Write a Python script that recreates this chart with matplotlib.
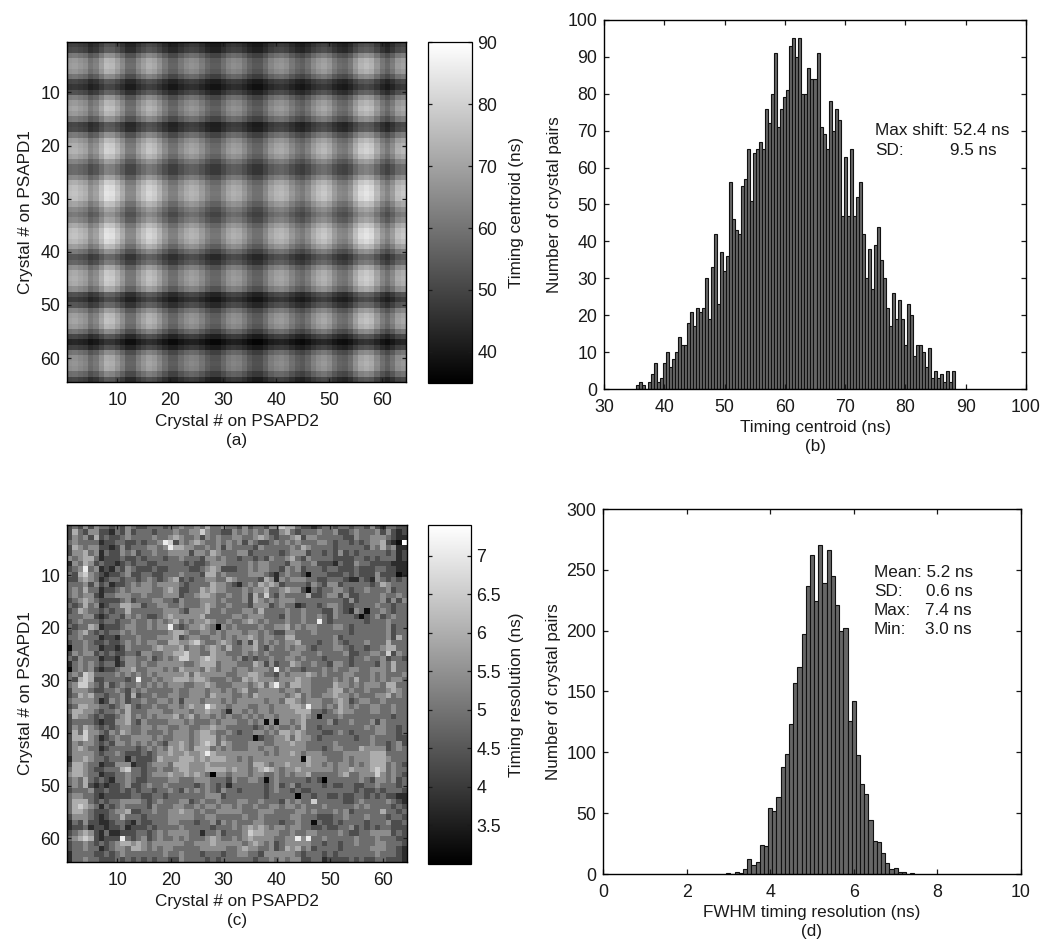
import numpy as np
import matplotlib
matplotlib.use("Agg")
import matplotlib.pyplot as plt

plt.rcParams['font.family'] = ['Liberation Sans', 'DejaVu Sans']
plt.rcParams['font.size'] = 12.3
plt.rcParams['xtick.labelsize'] = 12.8
plt.rcParams['ytick.labelsize'] = 12.8
plt.rcParams['axes.linewidth'] = 1.0
plt.rcParams['text.color'] = '#1a1a1a'
plt.rcParams['axes.labelcolor'] = '#1a1a1a'
plt.rcParams['xtick.color'] = '#1a1a1a'
plt.rcParams['ytick.color'] = '#1a1a1a'

W, H = 1050, 947

# panel (a): offsets read along the rows and columns, added to the centre level
centroid_level = 58
row_offset = [-12, -10, -1, 5, 6, 4, -2, -11, -14, -9, 0, 5, 7, 5, -1, -11,
              -10, -1, 6, 9, 10, 7, 1, -4, -4, 2, 9, 12, 13, 12, 7, 2,
              -1, 2, 8, 12, 13, 11, 6, -1, -8, -5, 3, 8, 9, 8, 3, -9,
              -13, -8, 1, 6, 7, 5, -2, -11, -17, -12, -2, 3, 4, 3, -3, -11]
col_offset = [5, 6, 4, 2, -4, -1, 6, 13, 12, 7, 1, -6, -6, 1, 6, 10,
              8, 3, -3, -8, -8, -3, 1, 3, 2, -2, -7, -10, -10, -5, 0, 2,
              1, -3, -8, -11, -11, -6, 0, 3, 4, 2, -3, -7, -9, -5, 1, 5,
              7, 4, -2, -6, -7, -3, 5, 11, 13, 11, 4, -3, -7, -2, 5, 7]

# panel (b): histogram counts, 0.5 ns bins starting at 35.5 ns
b_start = 35.5
b_width = 0.5
b_counts = [1, 2, 1, 0, 2, 4, 7, 2, 3, 7, 10, 6, 8, 10, 14, 12, 12, 18, 21, 17,
            22, 21, 22, 30, 19, 33, 42, 23, 37, 32, 36, 56, 46, 43, 42, 55, 57, 65, 51, 64,
            65, 67, 65, 76, 72, 80, 91, 71, 76, 79, 81, 93, 95, 90, 95, 80, 80, 87, 84, 84,
            91, 71, 69, 65, 78, 70, 76, 73, 47, 63, 47, 65, 47, 52, 56, 42, 30, 38, 27, 39,
            44, 35, 30, 22, 17, 26, 19, 24, 19, 12, 23, 20, 9, 12, 12, 10, 6, 11, 3, 5,
            3, 4, 2, 5, 2, 5]

# panel (c): grey level per cell, 4.4 is about the 5.1 ns mean
res_min, res_max = 3.0, 7.4
res_rows = [
    "34353544 34354334 44344544 54644544 35344355 76643323 44344344 35324433",
    "36435533 24353444 34445445 57544335 45454533 56434445 44533454 44535323",
    "35453634 33454444 54456544 53545445 54456543 44563554 44443354 45554322",
    "45444423 34433434 45873545 65445454 53543345 45454445 54344343 45563219",
    "36545533 23534445 54586655 44545354 44435444 44546544 44344444 35464522",
    "35564524 33545344 54455553 55465444 55344444 34555344 34353434 44443423",
    "54566423 33433434 44344544 43554544 34434354 45643544 44333344 34344423",
    "25465343 32343443 34444434 33455544 44545544 43554453 33243354 43333222",
    "34584523 24354333 43344443 34565333 44545544 35453444 34433343 33443322",
    "43675432 33453344 33444544 43664544 44555432 45443144 43334343 33533312",
    "33565423 44344345 43456343 44554465 44443652 54555443 34443224 32543434",
    "44453534 23345455 45555434 44465543 24546565 34444354 35534444 43465444",
    "45464423 34545555 44565334 46565544 45455644 56553143 44554344 54445344",
    "45455324 45554454 44555344 56654454 45364743 54444633 45535334 44454454",
    "34565433 33453444 55443544 45554544 45365454 55544444 44443534 44453535",
    "43464523 44665534 45544544 45654454 44355534 54423443 45543344 44544344",
    "34654434 34464444 44555435 55644544 45546444 45445444 33543254 14454344",
    "44455323 44354543 34565555 56444445 54555444 35445445 43544431 34534544",
    "34544434 43445445 45456454 55654454 45654544 45445448 43444444 34445444",
    "43446523 33455445 45584345 56540545 44445445 56454554 44554344 44445344",
    "34564343 44545444 44456654 45545455 54554543 35544454 44444344 44445344",
    "44544423 32444544 45556345 54455454 55654554 46644444 44534444 44445364",
    "34454334 33454545 54466556 75445654 35364545 45564443 44543444 54446444",
    "14454423 32354444 56555645 54565464 45564354 45455434 44554344 34456644",
    "35455343 43344355 44556675 54465544 45454544 44554445 44445334 45547354",
    "43544423 32455445 34545775 56765554 53434454 45545444 34444344 54453443",
    "24545434 42355454 45555544 56664555 44465353 44654454 43554344 44354644",
    "14545323 34556445 55454655 54654554 55455548 45443444 54544554 45554644",
    "45476444 45454545 45555564 65555544 55665443 54555654 54445544 45454445",
    "43676334 44434844 54556665 66544454 46565554 55565544 44545464 45454554",
    "45775435 34544545 45455544 55654445 55456468 54665544 44655454 55546644",
    "35554334 45435454 44445445 55455454 56445555 45545544 45664544 54445654",
    "34656443 44536344 54455445 55465554 45465555 54564544 55655454 44556454",
    "45555423 54534454 45545355 54555454 55555455 46654555 44565345 54454444",
    "34665544 34564344 54455456 55865545 55445545 55665855 45465454 45544544",
    "46655434 45464445 55445554 55655425 54545545 55566644 34565544 45544544",
    "36554343 34564545 45556456 45545454 45454554 55556541 44454444 44444344",
    "34444323 35564354 44455545 44454555 44545151 55456444 45344544 45354444",
    "35465434 34554455 45544554 45565544 44434545 44546443 44444444 54554434",
    "36475543 54654454 44545554 56654454 34455454 66565444 33454344 44554434",
    "36675423 45445555 45445554 56664544 44413445 56465543 44444434 45444433",
    "35455434 35545454 54355654 56764654 44555445 55655444 44544444 45443453",
    "35654423 44444345 45465654 66645454 44554554 55555444 34554446 55553454",
    "35555434 45433343 45565565 56865555 55555454 55654555 44445555 56664444",
    "25565443 44424333 46555666 56566655 45455555 55551655 54445455 56665444",
    "36654423 35552334 55546665 55655555 55466545 56555655 45455454 56664543",
    "46654334 44674434 45445665 55666656 55456765 45565555 55455655 56764544",
    "56654423 34454434 55565565 65405545 55455445 45455644 44456445 55754543",
    "45464343 24454334 44455444 55544435 44554145 44444343 04444445 43554534",
    "45463232 33453345 44544444 34543424 44444345 34534444 34334433 44544434",
    "34445334 33434344 34454354 54543544 34444345 44343344 44444434 33434443",
    "45544323 33334433 44344444 44555344 44444344 44404434 43343344 34343322",
    "46664343 44555543 45444553 45445444 55445444 35454474 44443345 44445432",
    "46765424 34544443 54445544 54554554 54454455 45545444 54444454 54444343",
    "46654333 45563344 54455655 45445555 54445554 44455454 44545344 44464434",
    "35554323 44644434 44455555 44554444 45445444 44554443 33445444 54443443",
    "24353322 34432433 44455444 34453545 44455444 34454414 33434444 34445334",
    "23342332 33423334 34444544 44434445 45656545 54554433 43344534 34344333",
    "34565324 22333443 45455554 42445344 45766555 44544554 44454334 45555343",
    "45676323 33843453 45445454 44565445 45655554 45585844 54444454 44544433",
    "34454343 45665654 55555544 55565555 54565453 45555544 34434454 44554443",
    "34454423 45546654 54554444 45555544 56554453 46564534 44434444 45554432",
    "24444334 34544444 44544544 43444344 55443555 55543444 34344444 44544432",
    "24454433 34343434 34433544 44343444 44434454 54553344 23333434 33443332",
]

# panel (d): histogram counts, 0.1 ns bins starting at 3.0 ns
d_start = 3.0
d_width = 0.1
d_counts = [1, 0, 2, 1, 4, 12, 7, 10, 24, 23, 54, 52, 63, 88, 99, 123, 157, 170, 197, 237,
            262, 224, 270, 239, 266, 245, 221, 200, 202, 126, 142, 98, 74, 66, 44, 27, 26, 17, 9, 4,
            5, 2, 2, 0, 1]


def axes_px(fig, left, top, right, bottom):
    return fig.add_axes([left / W, 1 - bottom / H, (right - left) / W, (bottom - top) / H])


def heatmap(fig, box, cbox, data, vmin, vmax, cticks, ctick_labels, clabel, tag):
    ax = axes_px(fig, *box)
    im = ax.imshow(data, cmap='gray', vmin=vmin, vmax=vmax, aspect='auto',
                   extent=[0.5, 64.5, 64.5, 0.5], interpolation='nearest')
    ax.set_xticks(range(10, 61, 10))
    ax.set_yticks(range(10, 61, 10))
    ax.tick_params(direction='in', top=True, right=True, length=3, width=0.9)
    ax.tick_params(axis='x', pad=7)
    ax.tick_params(axis='y', pad=5)
    ax.set_xlabel('Crystal # on PSAPD2\n' + tag, labelpad=4, linespacing=1.35)
    ax.set_ylabel('Crystal # on PSAPD1', labelpad=5)

    cax = axes_px(fig, *cbox)
    cb = fig.colorbar(im, cax=cax)
    cb.set_ticks(cticks)
    cb.set_ticklabels(ctick_labels)
    cax.tick_params(direction='in', left=True, right=True, length=3, width=0.9, pad=4)
    cb.outline.set_linewidth(0.9)
    cax.text((517 - cbox[0]) / (cbox[2] - cbox[0]), 0.5, clabel, rotation=90,
             ha='center', va='center', transform=cax.transAxes)


def histogram(fig, box, start, width, counts, xlim, ylim, xticks, yticks, xlabel):
    ax = axes_px(fig, *box)
    centers = start + width * np.arange(len(counts))
    ax.bar(centers, counts, width=width, color='#666666', edgecolor='#111111', linewidth=0.8)
    ax.set_xlim(xlim)
    ax.set_ylim(ylim)
    ax.set_xticks(xticks)
    ax.set_yticks(yticks)
    ax.tick_params(direction='in', top=True, right=True, length=3.5, width=0.9)
    ax.tick_params(axis='x', pad=7)
    ax.tick_params(axis='y', pad=5)
    ax.set_xlabel(xlabel, labelpad=3, linespacing=1.35)
    ax.set_ylabel('Number of crystal pairs', labelpad=4)
    return ax


fig = plt.figure(figsize=(W / 100, H / 100), dpi=100)

# (a) column contrast gets stronger on the bright rows
rows = np.array(row_offset)[:, None]
cols = np.array(col_offset)[None, :]
centroid = centroid_level + rows + cols * (0.77 + 0.02 * rows)
heatmap(fig, (67, 42, 406, 382), (428, 42, 472, 383), centroid, 35, 90,
        [40, 50, 60, 70, 80, 90], ['40', '50', '60', '70', '80', '90'],
        'Timing centroid (ns)', '(a)')

# (b)
ax_b = histogram(fig, (604, 20, 1026, 389), b_start, b_width, b_counts, (30, 100), (0, 100),
                 range(30, 101, 10), range(0, 101, 10), 'Timing centroid (ns)\n(b)')
ax_b.text(74.9, 70, 'Max shift: 52.4 ns', va='center')
ax_b.text(74.9, 64.7, 'SD:', va='center')
ax_b.text(87.4, 64.7, '9.5 ns', va='center')

# (c) spread the digits around the mean, the histogram shows about 0.6 ns SD
digits = np.array([[int(c) for c in r.replace(' ', '')] for r in res_rows], dtype=float)
resolution = np.clip(5.1 + (digits - 4.4) * 0.55, res_min, res_max)
heatmap(fig, (67, 525, 407, 862), (428, 525, 471, 864), resolution, res_min, res_max,
        [3.5, 4, 4.5, 5, 5.5, 6, 6.5, 7], ['3.5', '4', '4.5', '5', '5.5', '6', '6.5', '7'],
        'Timing resolution (ns)', '(c)')

# (d)
ax_d = histogram(fig, (603, 509, 1021, 874), d_start, d_width, d_counts, (0, 10), (0, 300),
                 range(0, 11, 2), range(0, 301, 50), 'FWHM timing resolution (ns)\n(d)')
ax_d.text(6.48, 248, 'Mean: 5.2 ns', va='center')
ax_d.text(6.48, 232, 'SD:', va='center')
ax_d.text(7.73, 232, '0.6 ns', va='center')
ax_d.text(6.48, 216.5, 'Max:', va='center')
ax_d.text(7.71, 216.5, '7.4 ns', va='center')
ax_d.text(6.48, 201, 'Min:', va='center')
ax_d.text(7.71, 201, '3.0 ns', va='center')

fig.savefig('out.png', dpi=100)
